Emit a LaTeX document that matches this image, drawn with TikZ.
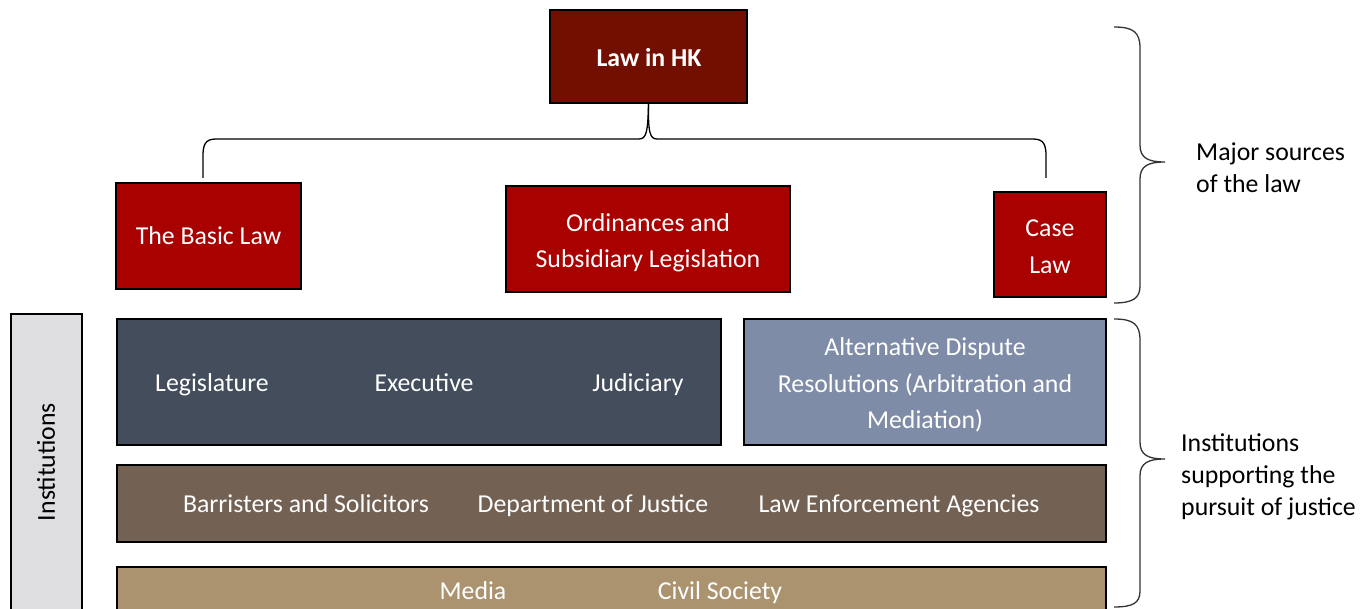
\documentclass[tikz,border=0pt]{standalone}
\usepackage{fontspec}
\setmainfont{Carlito}
\definecolor{lawdark}{HTML}{720F00}
\definecolor{lawred}{HTML}{A90000}
\definecolor{slate}{HTML}{434D5B}
\definecolor{adrblue}{HTML}{7F8CA8}
\definecolor{brownbox}{HTML}{736154}
\definecolor{tanbox}{HTML}{AB936F}
\definecolor{instgray}{HTML}{DEDEE0}
\begin{document}
\begin{tikzpicture}[x=1pt,y=-1pt,
  box/.style={draw=black,line width=1.3pt,inner sep=0pt,outer sep=0pt},
  lbl/.style={text=white,inner sep=0pt,align=center,font=\fontsize{25.8}{36.5}\selectfont},
  bl/.style={lbl,anchor=base},
  side/.style={anchor=west,align=left,inner sep=0pt,font=\fontsize{25.8}{31.8}\selectfont},
  conn/.style={draw=black,line width=1.3pt},
  brc/.style={draw=black!80,line width=1.3pt}]
\clip (0,0) rectangle (1361,609);
\fill[white] (0,0) rectangle (1361,609);
% top node
\node[box,fill=lawdark,minimum width=197pt,minimum height=93pt] (law) at (648.5,56.5) {};
\node[bl,font=\bfseries\fontsize{25.8}{31}\selectfont] (lawtxt) at (649,67) {Law in HK};
% sources
\node[box,fill=lawred,minimum width=185pt,minimum height=106pt] (basic) at (208.5,236) {};
\node[bl] (basictxt) at (208.5,244.5) {The Basic Law};
\node[box,fill=lawred,minimum width=284pt,minimum height=106pt] (ord) at (648,239) {};
\node[lbl] (ordtxt) at (648,243) {Ordinances and\\Subsidiary Legislation};
\node[box,fill=lawred,minimum width=112pt,minimum height=105pt] (case) at (1050,244.5) {};
\node[lbl] (casetxt) at (1050,246.5) {Case\\Law};
% bracket connector
\coordinate (lend) at (203,178);
\coordinate (rend) at (1046,178);
\draw[conn] (law.south) .. controls (648,133) and (646,139) .. (639,139) -- (216,139) .. controls (205,139) and (203,145) .. (203,156) -- (lend);
\draw[conn] (law.south) .. controls (648,133) and (650,139) .. (657,139) -- (1033,139) .. controls (1044,139) and (1046,145) .. (1046,156) -- (rend);
% institutions side box
\node[box,fill=instgray,minimum width=71pt,minimum height=330pt] (inst) at (46.5,479) {};
\node[rotate=90,inner sep=0pt,font=\fontsize{25.8}{31}\selectfont] (instlbl) at (46,462) {Institutions};
% institution rows
\node[box,fill=slate,minimum width=604pt,minimum height=126pt] (gov) at (419,382) {};
\node[bl] (legis) at (212,391.7) {Legislature};
\node[bl] (exec) at (424,391.7) {Executive};
\node[bl] (jud) at (638,391.7) {Judiciary};
\node[box,fill=adrblue,minimum width=362pt,minimum height=126pt] (adr) at (925,382) {};
\node[lbl] (adrtxt) at (925,385) {Alternative Dispute\\Resolutions (Arbitration and\\Mediation)};
\node[box,fill=brownbox,minimum width=989pt,minimum height=77pt] (legal) at (611.5,503.5) {};
\node[bl] (barr) at (306,512.3) {Barristers and Solicitors};
\node[bl] (doj) at (593,512.3) {Department of Justice};
\node[bl] (lea) at (899,512.3) {Law Enforcement Agencies};
\node[box,fill=tanbox,minimum width=989pt,minimum height=73pt] (civ) at (611.5,603.5) {};
\node[bl] (media) at (473,599) {Media};
\node[bl] (cs) at (720,599) {Civil Society};
% braces
\draw[brc] (1114,27) .. controls (1133,27) and (1140,32) .. (1140,48) -- (1140,145) .. controls (1140,158) and (1148,162) .. (1165,162) .. controls (1148,162) and (1140,166) .. (1140,179) -- (1140,286) .. controls (1140,298) and (1133,303) .. (1114,303);
\draw[brc] (1114,319) .. controls (1133,319) and (1140,324) .. (1140,340) -- (1140,442) .. controls (1140,455) and (1148,459) .. (1165,459) .. controls (1148,459) and (1140,463) .. (1140,476) -- (1140,591) .. controls (1140,603) and (1133,607) .. (1114,607);
\node[side] (srclbl) at (1196,168) {Major sources\\of the law};
\node[side] (instsup) at (1181,477) {Institutions\\supporting the\\pursuit of justice};
\end{tikzpicture}
\end{document}
